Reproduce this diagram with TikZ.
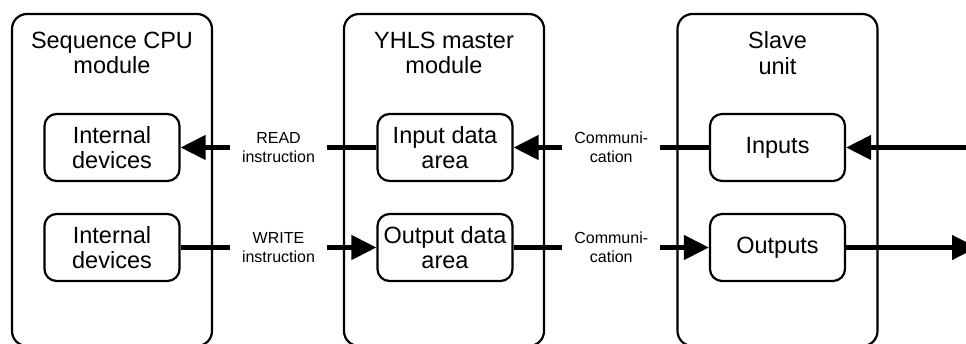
\documentclass[tikz,border=0pt]{standalone}
\usepackage{fontspec}
\setmainfont{Liberation Sans}
\usetikzlibrary{arrows.meta}

\begin{document}
\begin{tikzpicture}[x=1pt,y=-1pt,
    unit/.style={draw,line width=2.2pt,rounded corners=15pt,minimum width=200pt,minimum height=332pt},
    title/.style={align=center,inner sep=0pt,font=\fontsize{23.5}{25.5}\selectfont},
    area/.style={draw,line width=2.2pt,rounded corners=12pt,minimum width=135pt,minimum height=67pt,
        align=center,inner sep=0pt,font=\fontsize{23.5}{25.5}\selectfont},
    link/.style={line width=4.5pt,-{Triangle[length=25pt,width=24pt]}},
    tag/.style={fill=white,align=center,inner sep=12pt,font=\fontsize{16}{19}\selectfont}]
        \useasboundingbox (0,0) rectangle (966,343);
        \clip (0,0) rectangle (966,343);

        % the three units
        \node [unit] (cpu) at (112,180) {};
        \node [unit] (master) at (444,180) {};
        \node [unit] (slave) at (777.5,180) {};
        \node [title] (cputitle) at (112,53) {Sequence CPU\\module};
        \node [title] (mastertitle) at (444,53) {YHLS master\\module};
        \node [title] (slavetitle) at (777.5,53) {Slave\\unit};

        % areas inside them
        \node [area] (devin) at (112,147.5) {Internal\\devices};
        \node [area] (devout) at (112,247.5) {Internal\\devices};
        \node [area] (inarea) at (445,147.5) {Input data\\area};
        \node [area] (outarea) at (445,247.5) {Output data\\area};
        \node [area] (inputs) at (777.5,147.5) {Inputs};
        \node [area] (outputs) at (777.5,247.5) {Outputs};

        \coordinate (inpin) at (990,147.5);
        \coordinate (outpin) at (977,247.5);

        % data flow
        \draw [link] (inarea.west) -- node [tag] {READ\\instruction} (devin.east);
        \draw [link] (devout.east) -- node [tag] {WRITE\\instruction} (outarea.west);
        \draw [link] (inputs.west) -- node [tag] {Communi-\\cation} (inarea.east);
        \draw [link] (outarea.east) -- node [tag] {Communi-\\cation} (outputs.west);
        \draw [link] (inpin) -- (inputs.east);
        \draw [link] (outputs.east) -- (outpin);
\end{tikzpicture}
\end{document}
